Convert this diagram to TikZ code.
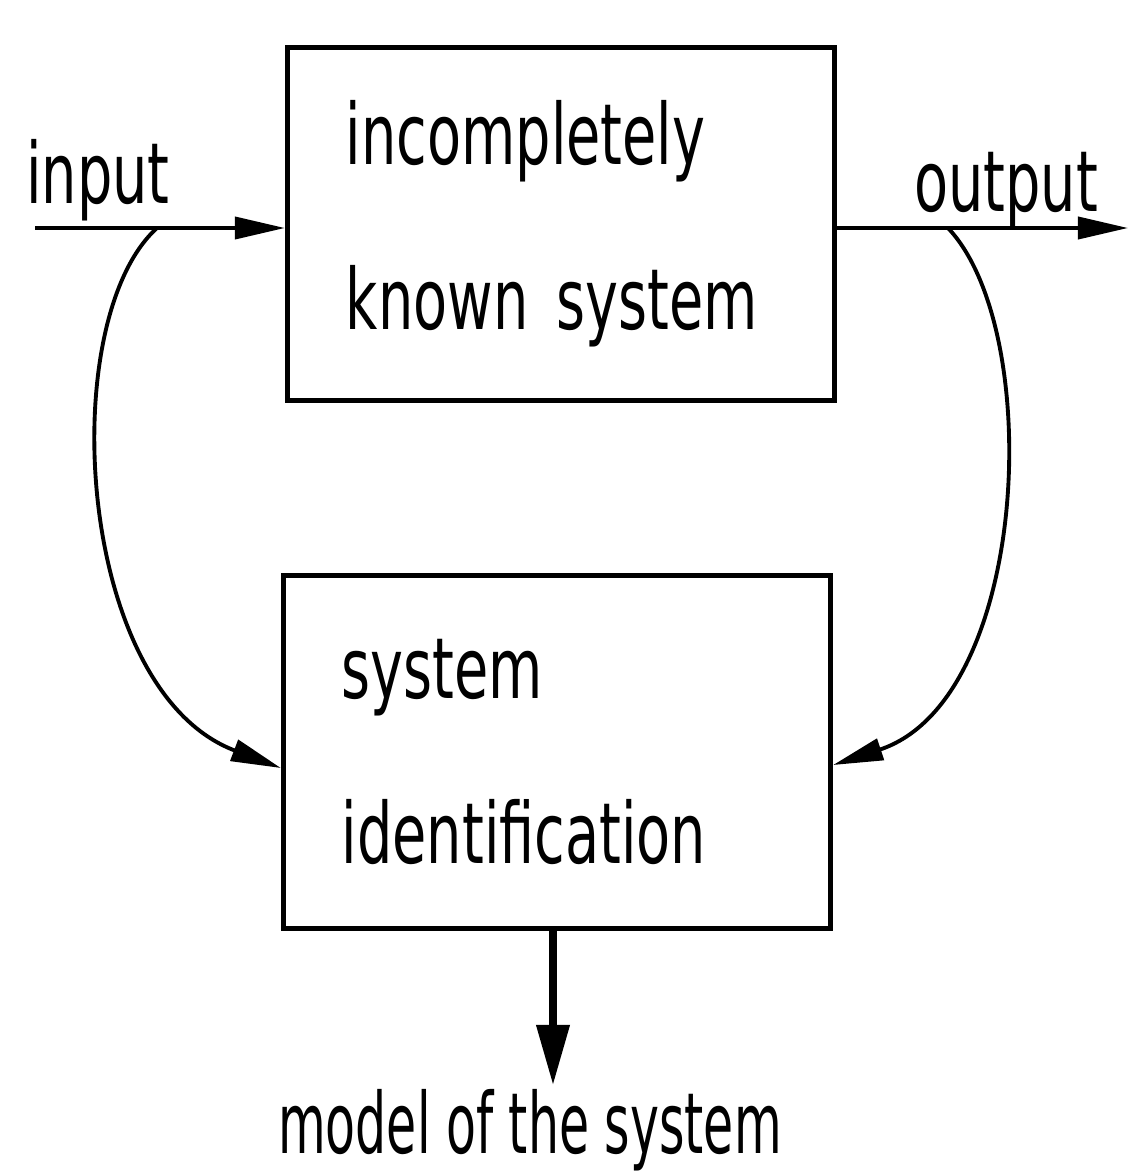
\documentclass[tikz,border=0pt]{standalone}
\usepackage{fontspec}
\setmainfont[FakeStretch=0.66]{DejaVu Sans}
\newfontfamily\narrowfont[FakeStretch=0.58]{DejaVu Sans}
\usetikzlibrary{arrows.meta}
\tikzset{
  blk/.style={draw, line width=1.4pt, minimum width=5.47cm, minimum height=3.52cm,
    text width=4.3cm, align=left, inner sep=0pt, font=\fontsize{24}{47}\selectfont},
  lbl/.style={anchor=base, inner sep=0pt, font=\fontsize{24}{29}\selectfont},
  flow/.style={line width=1.1pt, -{Triangle[length=5mm, width=2.2mm]}}
}
\begin{document}
\begin{tikzpicture}[x=0.01cm, y=-0.01cm]
  \useasboundingbox (0,0) rectangle (1131,1176);
  \node[blk] (sys) at (561,224) {incompletely\\known system};
  \node[blk] (idf) at (557,752) {system\\identification};
  \coordinate (in) at (35,228);
  \coordinate (out) at (1128,228);
  \coordinate (inbr) at (157,228);
  \coordinate (outbr) at (948,228);
  \coordinate (mdl) at (553,1085);
  \node[lbl] (inlbl) at (98,203) {input};
  \node[lbl] (outlbl) at (1006,212) {output};
  \node[lbl, font=\fontsize{24}{29}\narrowfont] (mdllbl) at (530,1153) {model of the system};
  \draw[flow] (in) -- (in -| sys.west);
  \draw[flow] (in -| sys.east) -- (out);
  \draw[flow] (inbr) .. controls (55,320) and (75,690) .. (idf.west |- 0,768);
  \draw[flow] (outbr) .. controls (1045,330) and (1030,700) .. (idf.east |- 0,765);
  \draw[line width=2pt, -{Triangle[length=6mm, width=3.2mm]}] (idf.south -| mdl) -- (mdl);
\end{tikzpicture}
\end{document}
